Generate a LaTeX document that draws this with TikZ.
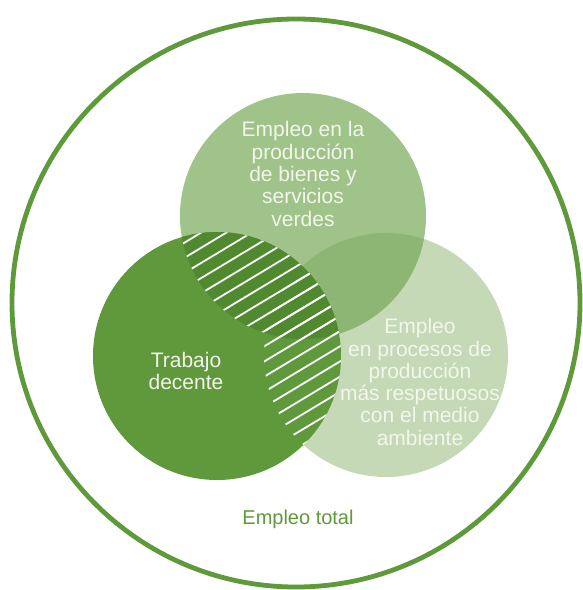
\documentclass[tikz,border=0pt]{standalone}
\usepackage{fontspec}
\setmainfont{Liberation Sans}
\definecolor{ringgreen}{HTML}{5E9A3A}
\definecolor{topgreen}{HTML}{A0C389}
\definecolor{rightgreen}{HTML}{C5D9B6}
\definecolor{trgreen}{HTML}{8DB574}
\definecolor{leftgreen}{HTML}{60983C}
\definecolor{ltgreen}{HTML}{50892F}
\definecolor{lighttext}{HTML}{F2F6EC}
\tikzset{
  label/.style={text=lighttext, align=center, font=\fontsize{21}{22.3}\selectfont, inner sep=0pt},
  hatchline/.style={draw=white, line width=1.8pt},
}
\begin{document}
\begin{tikzpicture}[x=1pt,y=1pt]
\useasboundingbox (0,0) rectangle (582,-590);
% outer circle
\draw[ringgreen, line width=4.8pt] (296,-303) circle (284);
% right and top circles
\fill[rightgreen] (386,-355) circle (122);
\fill[topgreen] (303,-216) circle (123);
\begin{scope}
  \clip (303,-216) circle (123);
  \fill[trgreen] (386,-355) circle (122);
\end{scope}
% left circle
\fill[leftgreen] (217,-356) circle (124);
\begin{scope}
  \clip (217,-356) circle (124);
  \fill[ltgreen] (303,-216) circle (123);
\end{scope}
% hatching: left circle with (top or right)
\begin{scope}
  \clip (217,-356) circle (124);
  \clip (303,-216) circle (123);
  \foreach \i in {-25,...,25} {
    \draw[hatchline] ({300-0.515*13*\i-0.857*220},{-340+0.857*13*\i-0.515*220}) -- ({300-0.515*13*\i+0.857*220},{-340+0.857*13*\i+0.515*220});
  }
\end{scope}
\begin{scope}
  \clip (217,-356) circle (124);
  \clip (386,-355) circle (122);
  \foreach \i in {-25,...,25} {
    \draw[hatchline] ({300-0.515*13*\i-0.857*220},{-340+0.857*13*\i-0.515*220}) -- ({300-0.515*13*\i+0.857*220},{-340+0.857*13*\i+0.515*220});
  }
\end{scope}
% labels
\node[label] (top) at (303,-174) {Empleo en la\\producción\\de bienes y\\servicios\\verdes};
\node[label] (left) at (186,-371) {Trabajo\\decente};
\node[label] (right) at (420,-382) {Empleo\\en procesos de\\producción\\más respetuosos\\con el medio\\ambiente};
\node[text=ringgreen, font=\fontsize{20}{22}\selectfont, inner sep=0pt] (total) at (298,-519) {Empleo total};
\end{tikzpicture}
\end{document}
